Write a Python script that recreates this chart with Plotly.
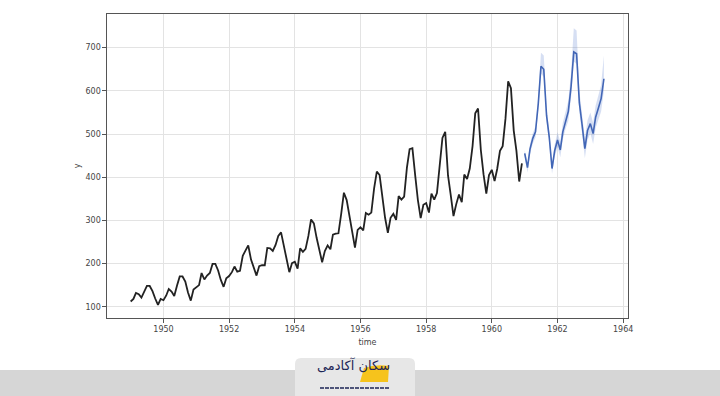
import pandas as pd
import plotly.graph_objects as go

# Observed monthly passengers 1949-1960
passengers = [
    112, 118, 132, 129, 121, 135, 148, 148, 136, 119, 104, 118,
    115, 126, 141, 135, 125, 149, 170, 170, 158, 133, 114, 140,
    145, 150, 178, 163, 172, 178, 199, 199, 184, 162, 146, 166,
    171, 180, 193, 181, 183, 218, 230, 242, 209, 191, 172, 194,
    196, 196, 236, 235, 229, 243, 264, 272, 237, 211, 180, 201,
    204, 188, 235, 227, 234, 264, 302, 293, 259, 229, 203, 229,
    242, 233, 267, 269, 270, 315, 364, 347, 312, 274, 237, 278,
    284, 277, 317, 313, 318, 374, 413, 405, 355, 306, 271, 306,
    315, 301, 356, 348, 355, 422, 465, 467, 404, 347, 305, 336,
    340, 318, 362, 348, 363, 435, 491, 505, 404, 359, 310, 337,
    360, 342, 406, 396, 420, 472, 548, 559, 463, 407, 362, 405,
    417, 391, 419, 461, 472, 535, 622, 606, 508, 461, 390, 432,
]
obs_dates = pd.date_range("1949-01-01", periods=len(passengers), freq="MS")

# Forecast Jan 1961 - Jun 1963
forecast = [
    455, 422, 465, 490, 505, 570, 657, 650, 543, 493, 420, 462,
    486, 463, 505, 532, 552, 610, 690, 686, 572, 522, 466, 508,
    524, 501, 539, 560, 582, 628,
]
forecast_upper = [
    463, 432, 477, 502, 518, 586, 688, 682, 560, 506, 432, 476,
    504, 482, 526, 554, 577, 642, 745, 740, 600, 546, 490, 532,
    550, 526, 566, 590, 614, 682,
]
forecast_lower = [
    446, 411, 453, 478, 492, 556, 640, 632, 527, 480, 408, 448,
    470, 446, 487, 512, 530, 586, 668, 662, 550, 501, 444, 486,
    502, 477, 514, 534, 552, 600,
]
fc_dates = pd.date_range("1961-01-01", periods=len(forecast), freq="MS")

tick_years = [1950, 1952, 1954, 1956, 1958, 1960, 1962, 1964]
y_ticks = [100, 200, 300, 400, 500, 600, 700]

fig = go.Figure()
fig.add_trace(go.Scatter(
    x=list(fc_dates) + list(fc_dates[::-1]),
    y=forecast_upper + forecast_lower[::-1],
    fill="toself", fillcolor="rgba(70,110,200,0.22)",
    line=dict(width=0), hoverinfo="skip", showlegend=False,
))
fig.add_trace(go.Scatter(
    x=obs_dates, y=passengers, mode="lines",
    line=dict(color="#222222", width=1.8), showlegend=False,
))
fig.add_trace(go.Scatter(
    x=fc_dates, y=forecast, mode="lines",
    line=dict(color="#4266b6", width=1.6), showlegend=False,
))

axis_common = dict(
    showline=True, linecolor="#555555", linewidth=1.2, mirror=True,
    ticks="outside", ticklen=3.5, tickcolor="#555555",
    showgrid=True, gridcolor="#e3e3e3", gridwidth=1, zeroline=False,
    tickfont=dict(family="DejaVu Sans", size=8, color="#444444"),
)
fig.update_xaxes(
    type="date", range=["1948-04-13", "1964-02-24"],
    tickvals=[pd.Timestamp(f"{y}-01-01") for y in tick_years],
    ticktext=[str(y) for y in tick_years],
    title=dict(text="time", font=dict(family="DejaVu Sans", size=8, color="#444444"), standoff=6),
    **axis_common,
)
fig.update_yaxes(
    range=[73.8, 778], tickvals=y_ticks,
    title=dict(text="y", font=dict(family="DejaVu Sans", size=8, color="#444444"), standoff=3),
    **axis_common,
)

W, H = 521.0, 304.0  # plot area size in px
def px(x):
    return (x - 107) / W
def py(y):
    return (318 - y) / H

shapes = [
    dict(type="rect", xref="paper", yref="paper", x0=px(-5), x1=px(725),
         y0=py(400), y1=py(370), fillcolor="#d6d6d6",
         line=dict(width=0), layer="above"),
]
tab_path = (
    f"M {px(295)} {py(400)} L {px(295)} {py(364)} "
    f"Q {px(295)} {py(358)} {px(301)} {py(358)} "
    f"L {px(409)} {py(358)} Q {px(415)} {py(358)} {px(415)} {py(364)} "
    f"L {px(415)} {py(400)} Z"
)
shapes.append(dict(type="path", xref="paper", yref="paper", path=tab_path,
                   fillcolor="#e7e7e7", line=dict(width=0), layer="above"))
shapes.append(dict(type="path", xref="paper", yref="paper",
                   path=(f"M {px(360)} {py(382)} L {px(364)} {py(368)} "
                         f"Q {px(376)} {py(364)} {px(389)} {py(366)} "
                         f"L {px(388)} {py(382)} Z"),
                   fillcolor="#f6c31c", line=dict(width=0), layer="above"))
shapes.append(dict(type="line", xref="paper", yref="paper",
                   x0=px(320), x1=px(390), y0=py(388), y1=py(388),
                   line=dict(color="#1d2556", width=1.5, dash="4px,1px"), layer="above"))
fig.update_layout(shapes=shapes)
fig.add_annotation(xref="paper", yref="paper", x=px(353), y=py(375),
                   text="سکان آکادمی", showarrow=False,
                   font=dict(family="DejaVu Sans", size=13, color="#1d2556"))

fig.update_layout(
    width=720, height=396,
    margin=dict(l=107, r=92, t=14, b=78),
    paper_bgcolor="white", plot_bgcolor="white",
)
fig.write_html("out.html", config={"displayModeBar": False},
               post_script="document.body.style.margin='0px';")
